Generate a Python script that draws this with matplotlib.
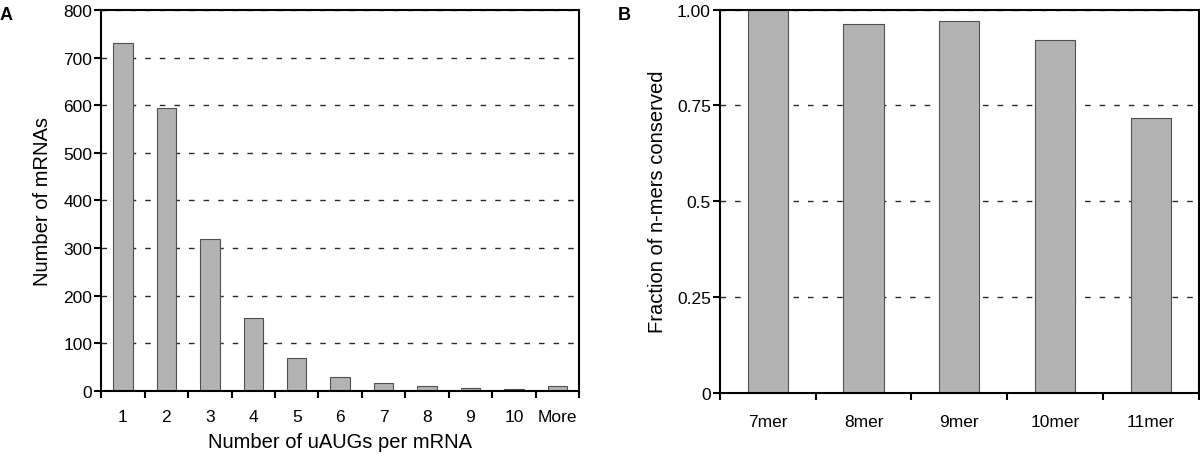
import numpy as np
import matplotlib
matplotlib.use("Agg")
import matplotlib.pyplot as plt
from matplotlib.ticker import FixedLocator, NullFormatter

plt.rcParams["font.family"] = ["Liberation Sans", "DejaVu Sans"]

uaug_labels = ["1", "2", "3", "4", "5", "6", "7", "8", "9", "10", "More"]
mrna_counts = [730, 594, 318, 153, 68, 29, 16, 9, 6, 4, 9]

nmer_labels = ["7mer", "8mer", "9mer", "10mer", "11mer"]
nmer_fraction = [1.00, 0.962, 0.971, 0.921, 0.718]

BAR_FACE = "#b3b3b3"
BAR_EDGE = "#505050"


def style_axes(ax, n, xpad):
    for s in ax.spines.values():
        s.set_linewidth(1.5)
    ax.set_xlim(-0.5, n - 0.5)
    ax.xaxis.set_major_locator(FixedLocator(np.arange(n + 1) - 0.5))
    ax.xaxis.set_major_formatter(NullFormatter())
    ax.xaxis.set_minor_locator(FixedLocator(np.arange(n)))
    ax.tick_params(axis="x", which="major", direction="out", length=5, width=1.5)
    ax.tick_params(axis="x", which="minor", length=0, pad=xpad, labelsize=12.5)
    ax.tick_params(axis="y", direction="out", length=5, width=1.5, pad=1.5, labelsize=12.5)
    ax.set_axisbelow(True)
    ax.yaxis.grid(True, linestyle=(0, (4, 6.5)), color="#2a2a2a", linewidth=1.0)


fig = plt.figure(figsize=(12, 4.6), dpi=100)

ax1 = fig.add_axes([0.0844, 0.1485, 0.3981, 0.8276])
x1 = np.arange(len(uaug_labels))
ax1.bar(x1, mrna_counts, width=0.45, color=BAR_FACE, edgecolor=BAR_EDGE, linewidth=0.8)
style_axes(ax1, len(uaug_labels), 13)
ax1.set_xticklabels(uaug_labels, minor=True)
ax1.set_ylim(0, 800)
ax1.set_yticks(np.arange(0, 801, 100))
ax1.set_ylabel("Number of mRNAs", fontsize=14.5, labelpad=8)
ax1.set_xlabel("Number of uAUGs per mRNA", fontsize=14.5, labelpad=6)
fig.text(0.0, 0.985, "A", fontsize=13, fontweight="bold", va="top", ha="left")

ax2 = fig.add_axes([0.6, 0.1441, 0.3988, 0.8326])
x2 = np.arange(len(nmer_labels))
ax2.bar(x2, nmer_fraction, width=0.42, color=BAR_FACE, edgecolor=BAR_EDGE, linewidth=0.8)
style_axes(ax2, len(nmer_labels), 15)
ax2.set_xticklabels(nmer_labels, minor=True)
ax2.set_ylim(0, 1)
ax2.set_yticks([0, 0.25, 0.5, 0.75, 1.0])
ax2.set_yticklabels(["0", "0.25", "0.5", "0.75", "1.00"])
ax2.set_ylabel("Fraction of n-mers conserved", fontsize=14.5, labelpad=7)
fig.text(0.515, 0.985, "B", fontsize=13, fontweight="bold", va="top", ha="left")

fig.savefig("out.png", dpi=100)
